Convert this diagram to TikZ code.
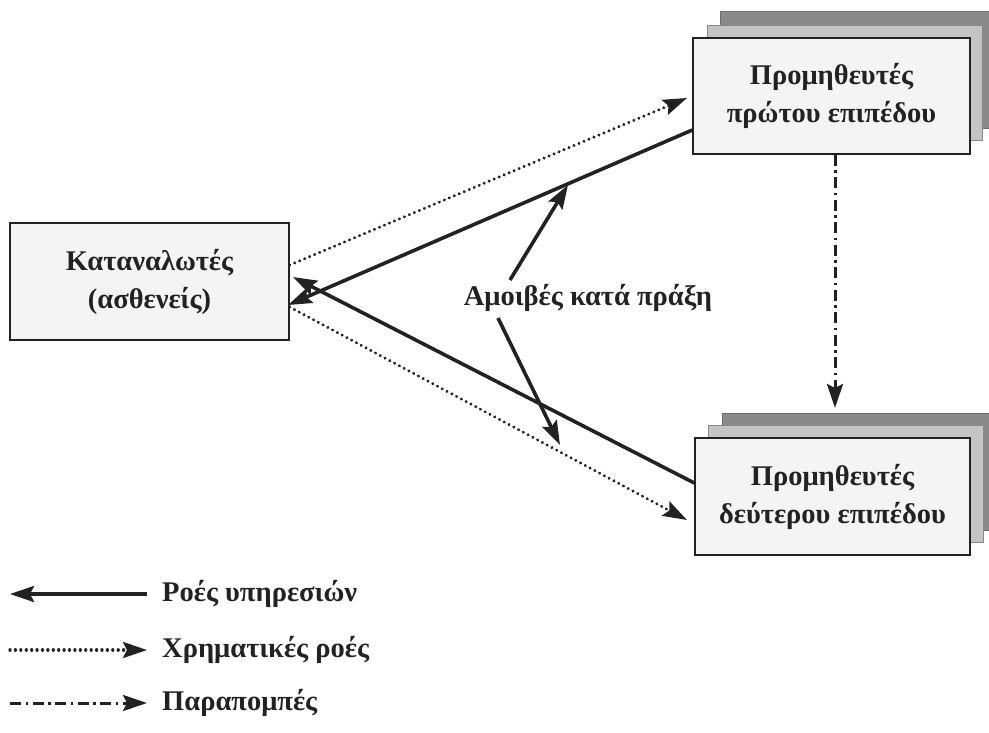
\documentclass[tikz,border=0pt]{standalone}
\usepackage{fontspec}
\setmainfont{Liberation Serif}
\usetikzlibrary{arrows.meta}
\definecolor{ink}{HTML}{222222}
\definecolor{backgray}{HTML}{8A8A8A}
\definecolor{midgray}{HTML}{C4C4C4}
\definecolor{frontgray}{HTML}{F4F4F4}
\tikzset{
  box/.style={draw=ink, line width=1.4pt, fill=frontgray, inner sep=0pt, align=center,
    font=\bfseries\fontsize{28.5}{38}\selectfont, text=ink},
  backlayer/.style={fill=backgray, draw=backgray!80!black, line width=1pt},
  midlayer/.style={fill=midgray, draw=midgray!70!black, line width=1pt},
  lbl/.style={font=\bfseries\fontsize{28.5}{32}\selectfont, text=ink, inner sep=0pt},
  tip/.style={-{Stealth[length=24pt,width=16pt,inset=4pt]}},
  solidflow/.style={tip, draw=ink, line width=3.6pt},
  dotflow/.style={tip, draw=ink, line width=3.3pt, line cap=round, dash pattern=on 0.01pt off 5.4pt},
  refflow/.style={tip, draw=ink, line width=3pt, dash pattern=on 11pt off 4.5pt on 2.5pt off 4.5pt},
}
\begin{document}
\begin{tikzpicture}[x=1pt,y=-1pt]
\useasboundingbox (0,0) rectangle (989,732);
% stacked layers top
\draw[backlayer] (720,11) rectangle (995,128);
\draw[midlayer] (707,25) rectangle (982,140);
\node[box, minimum width=277pt, minimum height=116pt] (top) at (831.5,96) {Προμηθευτές\\πρώτου επιπέδου};
% stacked layers bottom
\draw[backlayer] (722,413) rectangle (995,530);
\draw[midlayer] (708,425) rectangle (983,542);
\node[box, minimum width=275pt, minimum height=117pt] (bot) at (832.5,496.5) {Προμηθευτές\\δεύτερου επιπέδου};
% consumers
\node[box, minimum width=279pt, minimum height=117pt] (cons) at (149.5,281.5) {Καταναλωτές\\(ασθενείς)};
% label
\node[lbl] (fee) at (588,298) {Αμοιβές κατά πράξη};
% coordinates
\coordinate (c1) at (cons.east |- 0,265);
\coordinate (c2) at (288,305);
\coordinate (c3) at (293,277);
\coordinate (c4) at (cons.east |- 0,307);
\coordinate (t1) at (687,98);
\coordinate (t2) at (top.west |- 0,130);
\coordinate (b1) at (bot.west |- 0,483);
\coordinate (b2) at (687,520);
\coordinate (r1) at (835,408);
\coordinate (f1) at (510,280);
\coordinate (f2) at (568,185);
\coordinate (f3) at (498,318);
\coordinate (f4) at (560,445);
% flows
\draw[dotflow] (c1) -- (t1);
\draw[dotflow] (c4) -- (b2);
\draw[solidflow] (t2) -- (c2);
\draw[solidflow] (b1) -- (c3);
\draw[refflow] (top.south -| r1) -- (r1);
\draw[solidflow] (f1) -- (f2);
\draw[solidflow] (f3) -- (f4);
% legend
\coordinate (l1a) at (147,594); \coordinate (l1b) at (10,594);
\coordinate (l2a) at (10,650); \coordinate (l2b) at (147,650);
\coordinate (l3a) at (10,703); \coordinate (l3b) at (147,703);
\draw[solidflow] (l1a) -- (l1b);
\draw[dotflow] (l2a) -- (l2b);
\draw[refflow] (l3a) -- (l3b);
\node[lbl, anchor=west] (lg1) at (162,594) {Ροές υπηρεσιών};
\node[lbl, anchor=west] (lg2) at (162,650) {Χρηματικές ροές};
\node[lbl, anchor=west] (lg3) at (162,703) {Παραπομπές};
\end{tikzpicture}
\end{document}
